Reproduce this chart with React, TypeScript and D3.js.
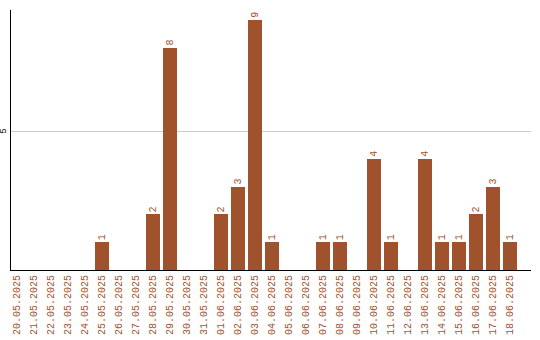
import React from "react";
import * as d3 from "d3";

const dates = [
  "20.05.2025", "21.05.2025", "22.05.2025", "23.05.2025", "24.05.2025", "25.05.2025",
  "26.05.2025", "27.05.2025", "28.05.2025", "29.05.2025", "30.05.2025", "31.05.2025",
  "01.06.2025", "02.06.2025", "03.06.2025", "04.06.2025", "05.06.2025", "06.06.2025",
  "07.06.2025", "08.06.2025", "09.06.2025", "10.06.2025", "11.06.2025", "12.06.2025",
  "13.06.2025", "14.06.2025", "15.06.2025", "16.06.2025", "17.06.2025", "18.06.2025",
];
const counts = [0, 0, 0, 0, 0, 1, 0, 0, 2, 8, 0, 0, 2, 3, 9, 1, 0, 0, 1, 1, 0, 4, 1, 0, 4, 1, 1, 2, 3, 1];
const yTicks = [5];

const W = 540, H = 340;
const left = 10, right = 531, top = 10, bottom = 270;
const color = "#a0522d";
const font = "'Liberation Mono', 'DejaVu Sans Mono', monospace";

export default function App() {
  const x = d3.scaleBand<string>().domain(dates).range([left, 517]).paddingInner(3 / 17).paddingOuter(0);
  const y = d3.scaleLinear().domain([0, 5]).range([bottom, 131]);
  return (
    <svg width={W} height={H} style={{ position: "absolute", left: 0, top: 0, background: "#fff" }}>
      {yTicks.map((t) => (
        <g key={t}>
          <line x1={left} x2={right} y1={y(t) + 0.5} y2={y(t) + 0.5} stroke="#cccccc" strokeWidth={1} />
          <text transform={`translate(4,${y(t)}) rotate(-90)`} textAnchor="middle" dominantBaseline="central"
            fontFamily={font} fontSize={9} fill="#000">{t}</text>
        </g>
      ))}
      {dates.map((d, i) => (
        counts[i] > 0 ? (
          <g key={d}>
            <rect x={x(d)} y={y(counts[i])} width={x.bandwidth()} height={bottom - y(counts[i])} fill={color} shapeRendering="crispEdges" />
            <text transform={`translate(${(x(d) as number) + x.bandwidth() / 2},${y(counts[i]) - 2}) rotate(-90)`}
              textAnchor="start" dominantBaseline="central" fontFamily={font} fontSize={10} fill={color}>{counts[i]}</text>
          </g>
        ) : null
      ))}
      <line x1={left + 0.5} x2={left + 0.5} y1={top} y2={bottom} stroke="#000" strokeWidth={1} />
      <line x1={left} x2={right} y1={bottom + 0.5} y2={bottom + 0.5} stroke="#000" strokeWidth={1} />
      {dates.map((d) => (
        <text key={"l" + d} transform={`translate(${(x(d) as number) + x.bandwidth() / 2},275) rotate(-90)`}
          textAnchor="end" dominantBaseline="central" fontFamily={font} fontSize={10} fill={color}>{d}</text>
      ))}
    </svg>
  );
}
